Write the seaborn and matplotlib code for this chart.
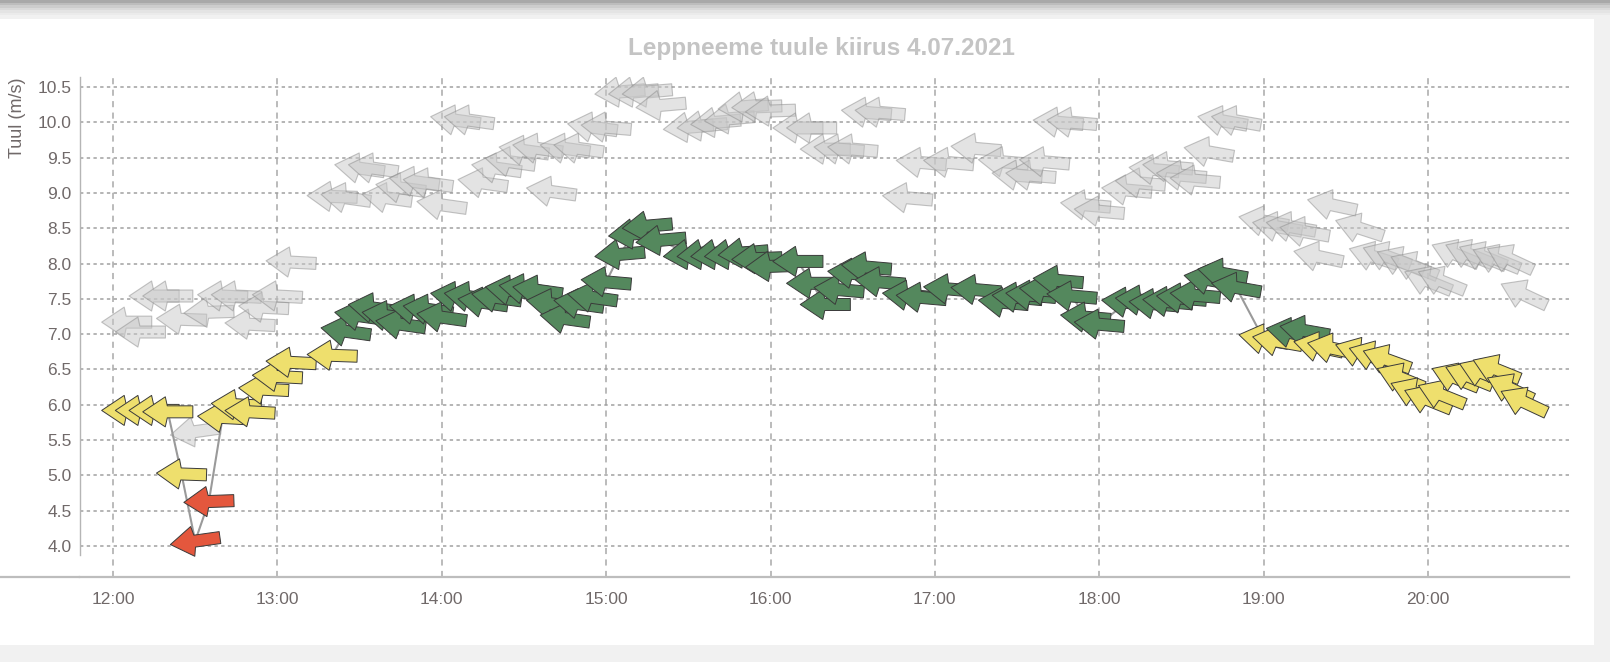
import numpy as np
import pandas as pd
import matplotlib
matplotlib.use("Agg")
import matplotlib.pyplot as plt
import seaborn as sns
from matplotlib.path import Path
from matplotlib.markers import MarkerStyle
from matplotlib.transforms import Affine2D
from matplotlib.lines import Line2D
from matplotlib.patches import Rectangle

# --- data ---
times = ["12:05", "12:10", "12:15", "12:20", "12:25", "12:30", "12:35",
         "12:40", "12:45", "12:50", "12:55", "13:00", "13:05", "13:20",
         "13:25", "13:30", "13:35", "13:40", "13:45", "13:50", "13:55", "14:00",
         "14:05", "14:10", "14:15", "14:20", "14:25", "14:30", "14:35", "14:40",
         "14:45", "14:50", "14:55", "15:00", "15:05", "15:10", "15:15", "15:20",
         "15:30", "15:35", "15:40", "15:45", "15:50", "15:55", "16:00",
         "16:10", "16:15", "16:20", "16:25", "16:30", "16:35", "16:40",
         "16:50", "16:55", "17:05", "17:15", "17:25", "17:30", "17:35", "17:40",
         "17:45", "17:50", "17:55", "18:00",
         "18:10", "18:15", "18:20", "18:25", "18:30", "18:35", "18:40", "18:45", "18:50",
         "19:00", "19:05", "19:10", "19:15", "19:20", "19:25", "19:35", "19:40",
         "19:45", "19:50", "19:55", "20:00", "20:05", "20:10", "20:15", "20:20",
         "20:25", "20:30", "20:35"]

wind = [5.92, 5.92, 5.92, 5.90, 5.02, 4.07, 4.63,
        5.82, 6.00, 5.90, 6.22, 6.40, 6.60, 6.70,
        7.04, 7.26, 7.37, 7.26, 7.14, 7.35, 7.35, 7.24,
        7.53, 7.53, 7.45, 7.52, 7.62, 7.64, 7.62, 7.43,
        7.22, 7.43, 7.52, 7.74, 8.13, 8.42, 8.53, 8.33,
        8.13, 8.13, 8.13, 8.13, 8.15, 8.07, 7.96,
        8.03, 7.72, 7.42, 7.63, 7.86, 7.95, 7.74,
        7.55, 7.52, 7.64, 7.63, 7.45, 7.52, 7.55, 7.62,
        7.76, 7.54, 7.24, 7.14,
        7.45, 7.48, 7.43, 7.46, 7.51, 7.55, 7.77, 7.86, 7.66,
        6.93, 6.90, 7.02, 7.05, 6.82, 6.80, 6.74, 6.69,
        6.64, 6.38, 6.17, 6.07, 6.14, 6.38, 6.40, 6.45,
        6.50, 6.23, 6.04]

gust = [7.17, 7.03, 7.54, 7.54, 7.21, 5.62, 7.31,
        7.54, 7.54, 7.14, 7.38, 7.54, 8.02, 8.95,
        8.93, 9.35, 9.35, 8.93, 9.07, 9.16, 9.14, 8.83,
        10.03, 10.03, 9.14, 9.35, 9.44, 9.60, 9.63, 9.02,
        9.63, 9.63, 9.93, 9.93, 10.43, 10.43, 10.43, 10.24,
        9.93, 9.95, 10.00, 10.05, 10.22, 10.22, 10.16,
        9.92, 9.92, 9.62, 9.62, 9.62, 10.14, 10.14,
        8.93, 9.43, 9.43, 9.63, 9.44, 9.25, 9.25, 9.44,
        10.00, 10.00, 8.83, 8.74,
        9.04, 9.14, 9.33, 9.37, 9.25, 9.18, 9.58, 10.02, 10.02,
        8.60, 8.52, 8.52, 8.45, 8.10, 8.83, 8.50, 8.10,
        8.10, 8.03, 7.96, 7.75, 7.75, 8.13, 8.13, 8.10,
        8.06, 8.06, 7.56]

# wind direction (degrees, 90 = from east -> arrow points left)
direction = [90, 90, 90, 90, 92, 82, 88,
             93, 93, 93, 93, 93, 93, 92,
             98, 98, 98, 98, 98, 98, 98, 98,
             98, 98, 98, 98, 98, 98, 98, 98,
             98, 98, 98, 95, 85, 85, 85, 85,
             85, 85, 85, 85, 85, 88, 88,
             90, 90, 90, 95, 95, 95, 95,
             95, 95, 95, 95, 95, 95, 95, 95,
             95, 95, 95, 95,
             95, 95, 95, 95, 95, 95, 100, 100, 100,
             100, 100, 100, 100, 102, 102, 108, 108,
             110, 112, 112, 112, 112, 112, 112, 112,
             112, 115, 115]

ticks_h = list(range(12, 21))
tick_labels = [f"{h}:00" for h in ticks_h]
y_ticks = np.arange(4.0, 10.51, 0.5)

colors = {"punane": "#e4573d", "kollane": "#eedf6d", "roheline": "#54885d"}

df = pd.DataFrame({
    "t": [int(s[:2]) + int(s[3:]) / 60 for s in times],
    "wind": wind,
    "gust": gust,
    "dir": direction,
})
df["klass"] = np.where(df["wind"] < 5, "punane",
                       np.where(df["wind"] < 7, "kollane", "roheline"))

# arrow marker, pointing left, rotated per wind direction
verts = [(-0.5, 0), (-0.05, 0.3), (-0.01, 0.12), (0.5, 0.12),
         (0.5, -0.12), (-0.01, -0.12), (-0.05, -0.3), (-0.5, 0)]
codes = [Path.MOVETO] + [Path.LINETO] * 6 + [Path.CLOSEPOLY]
arrow = Path(verts, codes)
markers = {d: MarkerStyle(arrow, transform=Affine2D().rotate_deg(90 - d))
           for d in sorted(set(direction))}

# --- figure ---
sns.set_theme(style="white")
plt.rcParams["font.family"] = ["Liberation Sans", "DejaVu Sans"]

W, H = 1610, 662
fig = plt.figure(figsize=(W / 100, H / 100), dpi=100)
fig.patch.set_facecolor("#f1f1f1")
fig.add_artist(Rectangle((0, 1 - 645 / H), 1594 / W, (645 - 19) / H,
                         transform=fig.transFigure, facecolor="white",
                         edgecolor="none", zorder=-10))
for i, c in enumerate(["#a9a9a9", "#bdbdbd", "#cdcdcd", "#dadada", "#e4e4e4", "#ebebeb"]):
    fig.add_artist(Rectangle((0, 1 - (i + 1) * 2.5 / H), 1, 2.5 / H,
                             transform=fig.transFigure, facecolor=c,
                             edgecolor="none", zorder=-9))

ax_left, ax_right, ax_top, ax_bot = 80, 1569, 77, 577
ax = fig.add_axes([ax_left / W, 1 - ax_bot / H, (ax_right - ax_left) / W,
                   (ax_bot - ax_top) / H])
ax.set_facecolor("none")

sns.lineplot(data=df, x="t", y="wind", color="#9a9a9a", lw=1.5, ax=ax, zorder=2)
sns.scatterplot(data=df, x="t", y="gust", style="dir", markers=markers,
                color="#c8c8c8", alpha=0.5, edgecolor="#8a8a8a", linewidth=0.8,
                s=1300, legend=False, ax=ax, zorder=1)
sns.scatterplot(data=df, x="t", y="wind", hue="klass", palette=colors,
                style="dir", markers=markers, edgecolor="#3a3a3a",
                linewidth=0.7, s=1300, legend=False, ax=ax, zorder=3)

ax.set_xlim(12 - 33 / 164.375, 12 + (ax_right - 113) / 164.375)
ax.set_ylim(4.0 - 31 / 70.615, 10.5 + 10 / 70.615)
ax.set_xticks(ticks_h)
ax.set_xticklabels(tick_labels)
ax.set_yticks(y_ticks)
ax.set_yticklabels([f"{v:.1f}" for v in y_ticks])
ax.set_xlabel("")
ax.set_ylabel("")

ax.set_axisbelow(True)
ax.yaxis.grid(True, color="#a0a0a0", linestyle=(0, (2.2, 2.2)), lw=1.1)
ax.xaxis.grid(True, color="#a8a8a8", linestyle=(0, (4, 3.5)), lw=1.1)

ax.tick_params(axis="both", length=0, labelsize=12.5, labelcolor="#706969")
ax.tick_params(axis="x", pad=11)
ax.tick_params(axis="y", pad=6)

for side in ["top", "right"]:
    ax.spines[side].set_visible(False)
ax.spines["left"].set_color("#b5b5b5")
ax.spines["left"].set_linewidth(1.0)
ax.spines["left"].set_bounds(3.87, 10.642)
ax.spines["bottom"].set_color("#bdbdbd")
ax.spines["bottom"].set_linewidth(1.6)
fig.add_artist(Line2D([0, ax_left / W], [1 - ax_bot / H, 1 - ax_bot / H],
                      transform=fig.transFigure, color="#bdbdbd", lw=1.6))

fig.text(17 / W, 1 - 78 / H, "Tuul (m/s)", rotation=90, ha="center", va="top",
         fontsize=13, color="#706969")
fig.text(821 / W, 1 - 49 / H, "Leppneeme tuule kiirus 4.07.2021", ha="center",
         va="center", fontsize=17.5, fontweight="bold", color="#c4c4c4")

fig.savefig("out.png", dpi=100, facecolor=fig.get_facecolor())
